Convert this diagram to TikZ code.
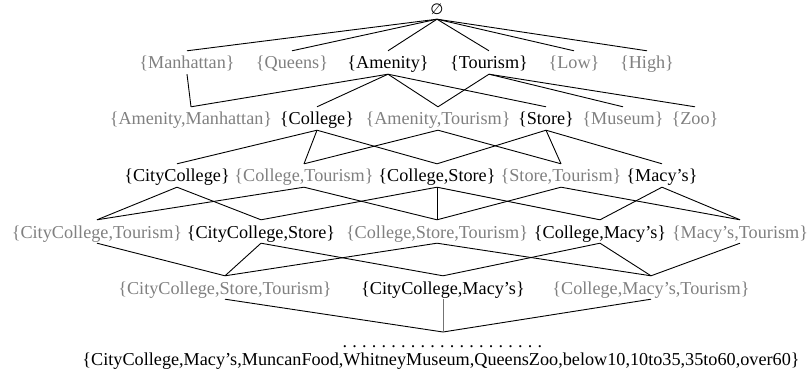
\documentclass[tikz,border=0pt]{standalone}
\usepackage{fontspec}
\setmainfont{Liberation Serif}
\newfontfamily\symfnt{DejaVu Sans}
\definecolor{lgray}{gray}{0.5}
\definecolor{egray}{gray}{0.45}
\begin{document}
\begin{tikzpicture}[x=1pt,y=-1pt,
  lab/.style={anchor=base,inner sep=0pt,text height=18pt,text depth=5pt,font=\fontsize{18.2}{20}\selectfont},
  blk/.style={lab,text=black},
  gry/.style={lab,text=lgray},
  edge/.style={draw=black,line width=0.9pt},
  gedge/.style={draw=egray,line width=0.9pt}]
\useasboundingbox (0,0) rectangle (810,382);
% row 0
\node[blk,text height=13pt,text depth=4pt,font=\symfnt\fontsize{15}{16}\selectfont] (top) at (437,15) {∅};
% row 1
\node[gry] (manh) at (187,69) {\{Manhattan\}};
\node[gry] (queens) at (292,69) {\{Queens\}};
\node[blk] (amen) at (388,69) {\{Amenity\}};
\node[blk] (tour) at (489,69) {\{Tourism\}};
\node[gry] (low) at (574,69) {\{Low\}};
\node[gry] (high) at (647,69) {\{High\}};
% row 2
\node[gry] (amman) at (191,125) {\{Amenity,Manhattan\}};
\node[blk] (coll) at (317,125) {\{College\}};
\node[gry] (amtour) at (438,125) {\{Amenity,Tourism\}};
\node[blk] (store) at (546,125) {\{Store\}};
\node[gry] (museum) at (623,125) {\{Museum\}};
\node[gry] (zoo) at (695,125) {\{Zoo\}};
% row 3
\node[blk] (cc) at (177,182) {\{CityCollege\}};
\node[gry] (colltour) at (304,182) {\{College,Tourism\}};
\node[blk] (collstore) at (437,182) {\{College,Store\}};
\node[gry] (storetour) at (561,182) {\{Store,Tourism\}};
\node[blk] (macys) at (662,182) {\{Macy’s\}};
% row 4
\node[gry] (cctour) at (97,238) {\{CityCollege,Tourism\}};
\node[blk] (ccstore) at (261,238) {\{CityCollege,Store\}};
\node[gry] (cst) at (437,238) {\{College,Store,Tourism\}};
\node[blk] (collmacys) at (600,238) {\{College,Macy’s\}};
\node[gry] (macystour) at (740,238) {\{Macy’s,Tourism\}};
% row 5
\node[gry] (ccst) at (225,294) {\{CityCollege,Store,Tourism\}};
\node[blk] (ccmacys) at (443,294) {\{CityCollege,Macy’s\}};
\node[gry] (cmt) at (651,294) {\{College,Macy’s,Tourism\}};
% bottom
\coordinate (apex) at (443,332);
\node[lab,text depth=0pt,text height=2pt] (dots) at (442.5,347.5) {\hbox to 205pt{\leaders\hbox to 9.75pt{\hss.\hss}\hfill}};
\node[blk,text height=13pt,text depth=4pt] (full) at (441,365) {\{CityCollege,Macy’s,MuncanFood,WhitneyMuseum,QueensZoo,below10,10to35,35to60,over60\}};
% edges row0-row1
\foreach \n in {manh,queens,amen,tour,low,high} \draw[edge] (top.south) -- (\n.north);
% row1-row2
\draw[edge] (manh.south) -- (amman.north);
\foreach \n in {amman,coll,amtour,store} \draw[edge] (amen.south) -- (\n.north);
\foreach \n in {amtour,museum,zoo} \draw[edge] (tour.south) -- (\n.north);
% row2-row3
\foreach \n in {cc,colltour,collstore} \draw[edge] (coll.south) -- (\n.north);
\foreach \n in {colltour,storetour} \draw[edge] (amtour.south) -- (\n.north);
\foreach \n in {collstore,storetour,macys} \draw[edge] (store.south) -- (\n.north);
% row3-row4
\foreach \n in {cctour,ccstore} \draw[edge] (cc.south) -- (\n.north);
\foreach \n in {cctour,cst} \draw[edge] (colltour.south) -- (\n.north);
\foreach \n in {ccstore,cst,collmacys} \draw[edge] (collstore.south) -- (\n.north);
\foreach \n in {cst,macystour} \draw[edge] (storetour.south) -- (\n.north);
\foreach \n in {collmacys,macystour} \draw[edge] (macys.south) -- (\n.north);
% row4-row5
\draw[edge] (cctour.south) -- (ccst.north);
\foreach \n in {ccst,ccmacys} \draw[edge] (ccstore.south) -- (\n.north);
\foreach \n in {ccst,cmt} \draw[edge] (cst.south) -- (\n.north);
\foreach \n in {ccmacys,cmt} \draw[edge] (collmacys.south) -- (\n.north);
\draw[edge] (macystour.south) -- (cmt.north);
% row5-apex
\draw[edge] (ccst.south) -- (apex);
\draw[edge] (cmt.south) -- (apex);
\draw[gedge] (ccmacys.south) -- (apex);
\end{tikzpicture}
\end{document}
